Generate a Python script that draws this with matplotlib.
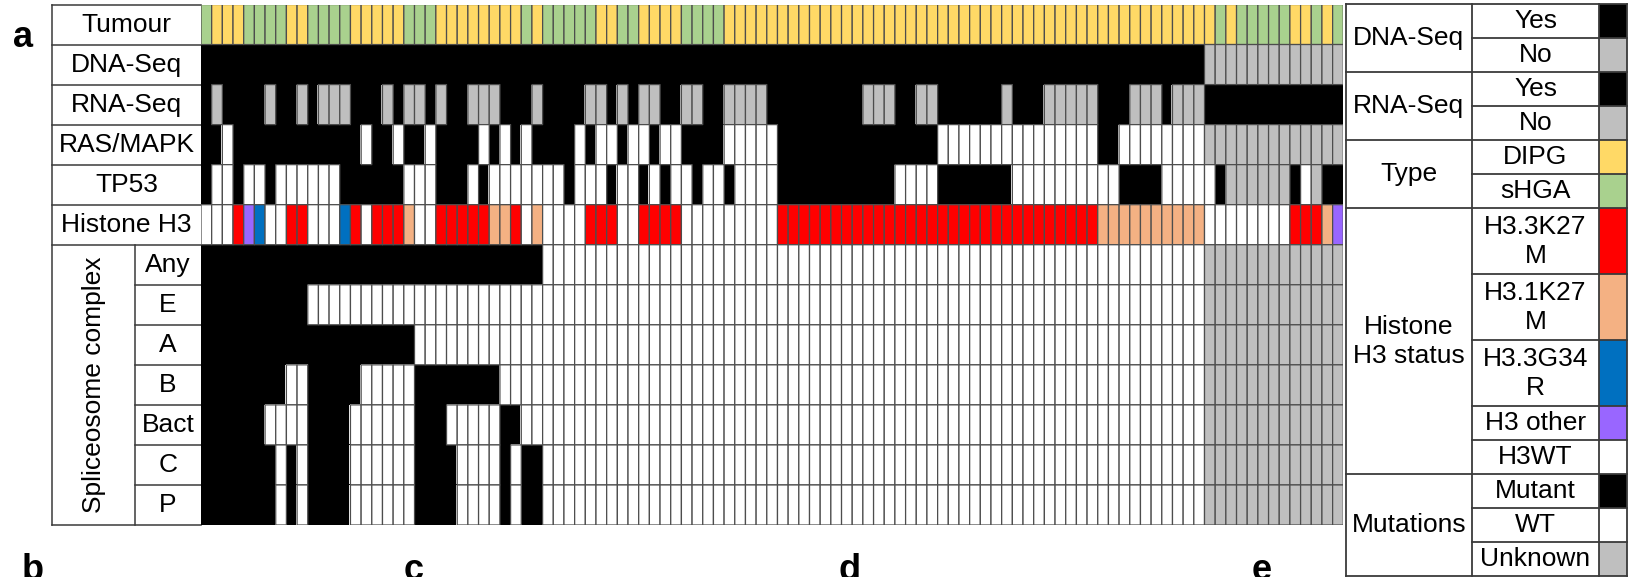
import numpy as np
import matplotlib.pyplot as plt
from matplotlib.colors import ListedColormap
from matplotlib.patches import Rectangle

plt.rcParams['font.family'] = ['Liberation Sans', 'DejaVu Sans']

# one letter per sample (107 samples), read column by column
# K = black (yes / mutant), U = grey (no / unknown), W = white (WT)
# Y = DIPG, G = sHGA, R = H3.3K27M, O = H3.1K27M, B = H3.3G34R, P = H3 other
tumour = ("GYYYGGGGYYGGGGYYYY" "YGGGYYYYYYYYGYGGGG" "GYYGGYYYYGGGGYYYYY"
          "YYYYYYYYYYYYYYYYYY" "YYYYYYYYYYYYYYYYY" "YYYYYYGYGGGGGYYGYG")
dna_seq = ("KKKKKKKKKKKKKKKKKK" "KKKKKKKKKKKKKKKKKK" "KKKKKKKKKKKKKKKKKK"
           "KKKKKKKKKKKKKKKKKK" "KKKKKKKKKKKKKKKKK" "KKKKKUUUUUUUUUUUUU")
rna_seq = ("KUKKKKUKKUKUUUKKKU" "KUUKUKKUUUKKKUKKKK" "UUKUKUUKKUUKKUUUUK"
           "KKKKKKKKUUUKKUUKKK" "KKKUKKKUUUUUKKKUU" "UKUUUKKKKKKKKKKKKK")
ras_mapk = ("KKWKKKKKKKKKKKKWKK" "WKKWKKKKWKWKWKKKKW" "KWWKWWKWWKKKKWWWWW"
            "KKKKKKKKKKKKKKKWWW" "WWWWWWWWWWWWKKWWW" "WWWWWUUUUUUUUUUUUU")
tp53 = ("KWWKWWKWWWWWWKKKKK" "KWWWKKKWKWWWWWWWKW" "WWKWWKWKWWKWWKWWWW"
        "KKKKKKKKKKKWWWWKKK" "KKKKWWWWWWWWWWKKK" "KWWWWWKUUUUUUKWUKK")
histone = ("WWWRPBWWRRWWWBRWRR" "ROWWRRRRROORWOWWWW" "RRRWWRRRRWWWWWWWWW"
           "RRRRRRRRRRRRRRRRRR" "RRRRRRRRRRRROOOOO" "OOOOOWWWWWWWWRRROP")
sp_any = ("KKKKKKKKKKKKKKKKKK" "KKKKKKKKKKKKKKWWWW" "WWWWWWWWWWWWWWWWWW"
          "WWWWWWWWWWWWWWWWWW" "WWWWWWWWWWWWWWWWW" "WWWWWUUUUUUUUUUUUU")
sp_e = ("KKKKKKKKKKWWWWWWWW" "WWWWWWWWWWWWWWWWWW" "WWWWWWWWWWWWWWWWWW"
        "WWWWWWWWWWWWWWWWWW" "WWWWWWWWWWWWWWWWW" "WWWWWUUUUUUUUUUUUU")
sp_a = ("KKKKKKKKKKKKKKKKKK" "KKWWWWWWWWWWWWWWWW" "WWWWWWWWWWWWWWWWWW"
        "WWWWWWWWWWWWWWWWWW" "WWWWWWWWWWWWWWWWW" "WWWWWUUUUUUUUUUUUU")
sp_b = ("KKKKKKKKWWKKKKKWWW" "WWKKKKKKKKWWWWWWWW" "WWWWWWWWWWWWWWWWWW"
        "WWWWWWWWWWWWWWWWWW" "WWWWWWWWWWWWWWWWW" "WWWWWUUUUUUUUUUUUU")
sp_bact = ("KKKKKKWWWWKKKKWWWW" "WWKKKWWWWWKKWWWWWW" "WWWWWWWWWWWWWWWWWW"
           "WWWWWWWWWWWWWWWWWW" "WWWWWWWWWWWWWWWWW" "WWWWWUUUUUUUUUUUUU")
sp_c = ("KKKKKKKWKWKKKKWWWW" "WWKKKKWWWWKWKKWWWW" "WWWWWWWWWWWWWWWWWW"
        "WWWWWWWWWWWWWWWWWW" "WWWWWWWWWWWWWWWWW" "WWWWWUUUUUUUUUUUUU")
sp_p = ("KKKKKKKWKWKKKKWWWW" "WWKKKKWWWWKWKKWWWW" "WWWWWWWWWWWWWWWWWW"
        "WWWWWWWWWWWWWWWWWW" "WWWWWWWWWWWWWWWWW" "WWWWWUUUUUUUUUUUUU")

rows = [tumour, dna_seq, rna_seq, ras_mapk, tp53, histone,
        sp_any, sp_e, sp_a, sp_b, sp_bact, sp_c, sp_p]
top_labels = ["Tumour", "DNA-Seq", "RNA-Seq", "RAS/MAPK", "TP53", "Histone H3"]
splice_labels = ["Any", "E", "A", "B", "Bact", "C", "P"]

colours = {'K': '#000000', 'U': '#bfbfbf', 'W': '#ffffff', 'Y': '#ffd966',
           'G': '#a9d18e', 'R': '#ff0000', 'O': '#f4b183', 'B': '#0070c0',
           'P': '#9966ff'}
codes = list(colours)

# legend table: (group, [(label, colour code, height units)])
legend = [("DNA-Seq", [("Yes", 'K', 1), ("No", 'U', 1)]),
          ("RNA-Seq", [("Yes", 'K', 1), ("No", 'U', 1)]),
          ("Type", [("DIPG", 'Y', 1), ("sHGA", 'G', 1)]),
          ("Histone\nH3 status", [("H3.3K27\nM", 'R', 2), ("H3.1K27\nM", 'O', 2),
                                  ("H3.3G34\nR", 'B', 2), ("H3 other", 'P', 1),
                                  ("H3WT", 'W', 1)]),
          ("Mutations", [("Mutant", 'K', 1), ("WT", 'W', 1), ("Unknown", 'U', 1)])]

W, H = 1632, 577
fig = plt.figure(figsize=(W / 100, H / 100), dpi=100)
fs = 19
line_c = '#3a3a3a'

# overlay in pixel coordinates for the tables and text
ax0 = fig.add_axes([0, 0, 1, 1])
ax0.set_xlim(0, W)
ax0.set_ylim(H, 0)
ax0.axis('off')

# main grid
gx0, gx1, gy0, gy1 = 201, 1343.3, 4.5, 525
ax = fig.add_axes([gx0 / W, 1 - gy1 / H, (gx1 - gx0) / W, (gy1 - gy0) / H])
mat = np.array([[codes.index(c) for c in r] for r in rows])
cmap = ListedColormap([colours[c] for c in codes])
# black cells merge into solid blocks, the others get grey cell borders
ax.pcolormesh(mat, cmap=cmap, vmin=-0.5, vmax=len(codes) - 0.5,
              edgecolors='face', linewidth=0.9)
ax.pcolor(np.ma.masked_where(mat == codes.index('K'), mat), cmap=cmap,
          vmin=-0.5, vmax=len(codes) - 0.5, edgecolors='#4d4d4d', linewidth=0.9)
ax.set_xlim(0, mat.shape[1])
ax.set_ylim(mat.shape[0], 0)
ax.axis('off')

# left label table
x0, x1, x2 = 52, 135, gx0
rh = (gy1 - gy0) / len(rows)
ye = [gy0 + k * rh for k in range(len(rows) + 1)]
for k, y in enumerate(ye):
    xs = x0 if (k <= len(top_labels) or k == len(rows)) else x1
    ax0.plot([xs, x2], [y, y], color=line_c, lw=1.1)
ax0.plot([x0, x0], [ye[0], ye[-1]], color=line_c, lw=1.1)
ax0.plot([x1, x1], [ye[len(top_labels)], ye[-1]], color=line_c, lw=1.1)
for k, lab in enumerate(top_labels):
    ax0.text((x0 + x2) / 2, (ye[k] + ye[k + 1]) / 2, lab, fontsize=fs,
             ha='center', va='center')
for k, lab in enumerate(splice_labels):
    j = k + len(top_labels)
    ax0.text((x1 + x2) / 2, (ye[j] + ye[j + 1]) / 2, lab, fontsize=fs,
             ha='center', va='center')
ax0.text((x0 + x1) / 2, (ye[len(top_labels)] + ye[-1]) / 2, "Spliceosome complex",
         fontsize=fs, rotation=90, ha='center', va='center')

# legend table
lx = [1346, 1471.7, 1599.3, 1627]
unit = {1: 34.0, 2: 66.0}
y = 4.4
ytop = y
for gi, (group, items) in enumerate(legend):
    g0 = y
    for ii, (lab, c, u) in enumerate(items):
        h = unit[u]
        ax0.add_patch(Rectangle((lx[2], y), lx[3] - lx[2], h, facecolor=colours[c],
                                edgecolor='none'))
        ax0.text((lx[1] + lx[2]) / 2, y + h / 2, lab, fontsize=fs, ha='center',
                 va='center', linespacing=1.25)
        if ii > 0:
            ax0.plot([lx[1], lx[3]], [y, y], color=line_c, lw=1.3)
        y += h
    ax0.text((lx[0] + lx[1]) / 2, (g0 + y) / 2, group, fontsize=fs, ha='center',
             va='center', linespacing=1.25)
    ax0.plot([lx[0], lx[3]], [y, y], color=line_c, lw=1.3)
ax0.plot([lx[0], lx[3]], [ytop, ytop], color=line_c, lw=1.3)
for xv in lx:
    ax0.plot([xv, xv], [ytop, y], color=line_c, lw=1.3)

# panel letters (the lower ones are cut by the bottom edge, as in the source)
ax0.text(13, 47, "a", fontsize=26, fontweight='bold', va='baseline')
for lab, xp in zip("bcde", [22, 404, 839, 1252]):
    ax0.text(xp, 580, lab, fontsize=26, fontweight='bold', va='baseline')

fig.savefig('out.png', dpi=100)
